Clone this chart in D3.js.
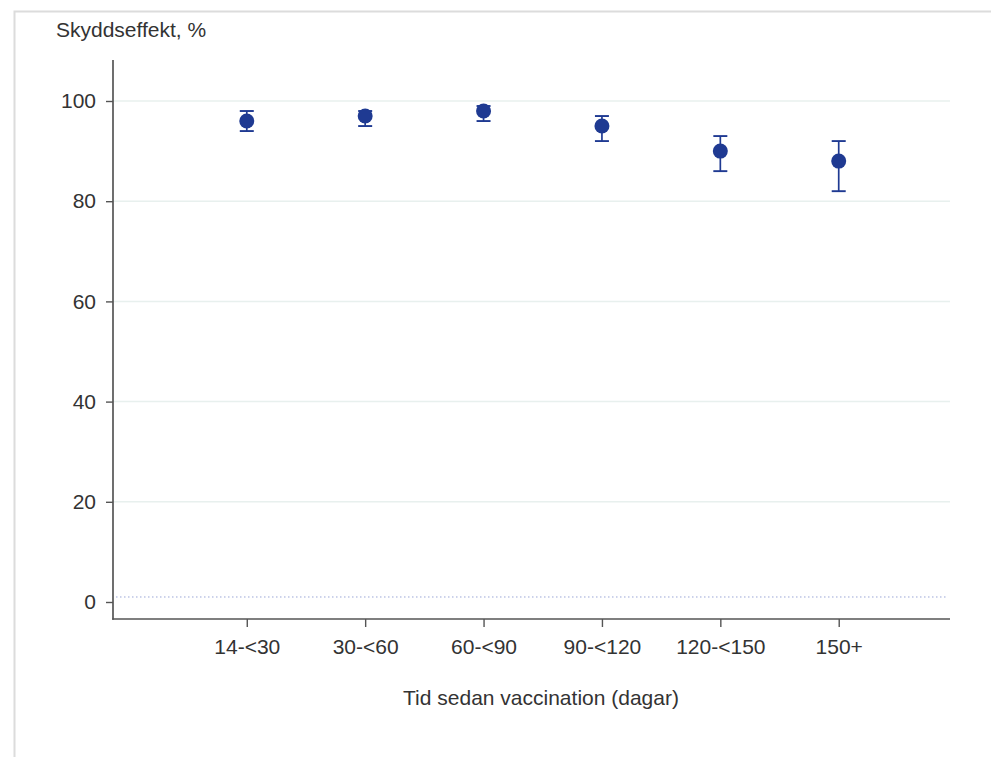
<!DOCTYPE html>
<html><head><meta charset="utf-8">
<script src="https://cdn.jsdelivr.net/npm/d3@7"></script>
<style>body{margin:0;background:#fff}svg{display:block}text{font-family:"Liberation Sans",Arial,sans-serif}</style>
</head><body>
<script>
const categories = ["14-<30","30-<60","60-<90","90-<120","120-<150","150+"];
const estimates = [96, 97, 98, 95, 90, 88];
const lower = [94, 95, 96, 92, 86, 82];
const upper = [98, 98, 99, 97, 93, 92];
const yTicks = [0, 20, 40, 60, 80, 100];
const refLine = 1;

const W = 991, H = 757;
const svg = d3.select("body").append("svg").attr("width", W).attr("height", H);

// outer frame (top and left edges)
svg.append("path").attr("d", `M14.5,${H} V11.5 H${W}`).attr("fill","none").attr("stroke","#dcdcdc").attr("stroke-width",2);

const x = d3.scaleLinear().domain([-1.13, 5.94]).range([113, 950]);
const y = d3.scaleLinear().domain([0, 100]).range([602, 101]);
const yTop = 60, xAxisY = 619;
const fs = 21;

// gridlines
svg.append("g").selectAll("line").data(yTicks.filter(d => d > 0)).join("line")
  .attr("x1", 113).attr("x2", 950).attr("y1", d => y(d)).attr("y2", d => y(d))
  .attr("stroke", "#e8f0ee").attr("stroke-width", 1.5);

// reference dotted line
svg.append("line").attr("x1", 116).attr("x2", 948).attr("y1", y(refLine)).attr("y2", y(refLine))
  .attr("stroke", "#9aa6d6").attr("stroke-width", 1).attr("stroke-dasharray", "1.5,2.5");

// y axis
const yAxis = d3.axisLeft(y).tickValues(yTicks).tickSize(7).tickPadding(10);
const gy = svg.append("g").attr("transform", "translate(113,0)").call(yAxis);
gy.attr("font-size", null).attr("font-family", null);
gy.select(".domain").remove();
gy.selectAll(".tick line").attr("stroke", "#555").attr("stroke-width", 1.4);
gy.selectAll(".tick text").attr("fill", "#333").style("font-size", fs + "px");
svg.append("line").attr("x1", 113).attr("x2", 113).attr("y1", yTop).attr("y2", xAxisY + 0.8)
  .attr("stroke", "#555").attr("stroke-width", 1.7);

// x axis
const xAxis = d3.axisBottom(x).tickValues(d3.range(categories.length)).tickFormat(i => categories[i]).tickSize(8).tickPadding(12);
const gx = svg.append("g").attr("transform", `translate(0,${xAxisY})`).call(xAxis);
gx.attr("font-size", null).attr("font-family", null);
gx.select(".domain").remove();
gx.selectAll(".tick line").attr("stroke", "#555").attr("stroke-width", 1.4);
gx.selectAll(".tick text").attr("fill", "#333").style("font-size", fs + "px");
svg.append("line").attr("x1", 112.2).attr("x2", 950).attr("y1", xAxisY).attr("y2", xAxisY)
  .attr("stroke", "#555").attr("stroke-width", 1.7);

// titles
svg.append("text").attr("x", 56).attr("y", 37).style("font-size", fs + "px").attr("fill", "#333").text("Skyddseffekt, %");
svg.append("text").attr("x", 541).attr("y", 705).attr("text-anchor", "middle").style("font-size", fs + "px").attr("fill", "#333").text("Tid sedan vaccination (dagar)");

// error bars and points
const color = "#1f3a92";
const data = categories.map((c, i) => ({i, est: estimates[i], lo: lower[i], hi: upper[i]}));
const g = svg.append("g");
g.selectAll(".eb").data(data).join("line").attr("class","eb")
  .attr("x1", d => x(d.i)).attr("x2", d => x(d.i)).attr("y1", d => y(d.lo)).attr("y2", d => y(d.hi))
  .attr("stroke", color).attr("stroke-width", 1.7);
g.selectAll(".capl").data(data).join("line").attr("class","capl")
  .attr("x1", d => x(d.i) - 7).attr("x2", d => x(d.i) + 7).attr("y1", d => y(d.lo)).attr("y2", d => y(d.lo))
  .attr("stroke", color).attr("stroke-width", 1.9);
g.selectAll(".caph").data(data).join("line").attr("class","caph")
  .attr("x1", d => x(d.i) - 7).attr("x2", d => x(d.i) + 7).attr("y1", d => y(d.hi)).attr("y2", d => y(d.hi))
  .attr("stroke", color).attr("stroke-width", 1.9);
g.selectAll("circle").data(data).join("circle")
  .attr("cx", d => x(d.i)).attr("cy", d => y(d.est)).attr("r", 7.5).attr("fill", color);
</script>
</body></html>
